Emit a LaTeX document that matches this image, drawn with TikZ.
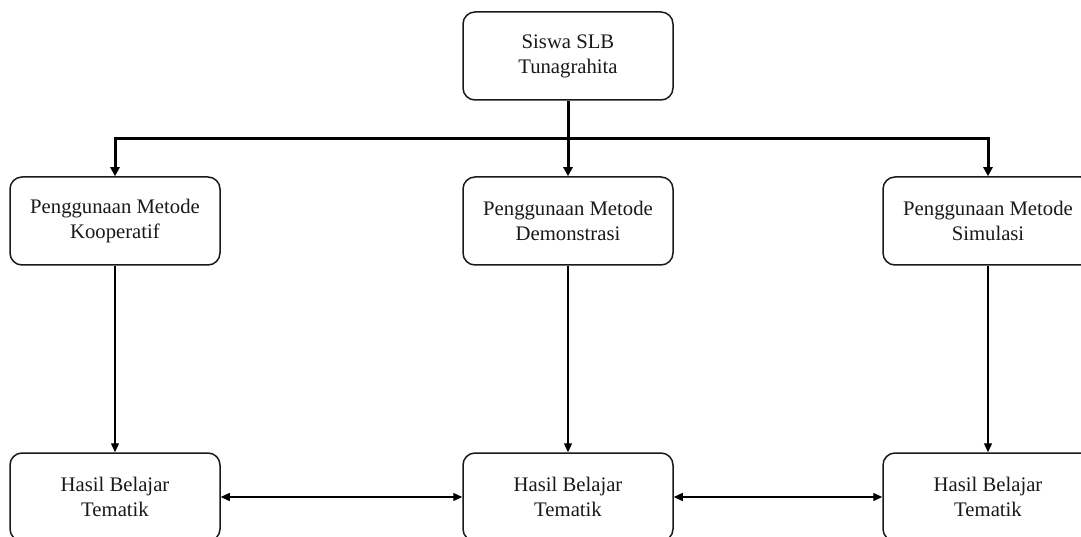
\documentclass[tikz,border=0pt]{standalone}
\usepackage{fontspec}
\setmainfont{Liberation Serif}
\usetikzlibrary{arrows.meta}
\begin{document}
\begin{tikzpicture}[x=1pt,y=-1pt,
  box/.style={draw=black!90, line width=1.5pt, rounded corners=12pt, minimum width=210pt, minimum height=88pt, align=center, font=\fontsize{20.7}{25}\selectfont, inner sep=0pt, fill=white, text=black!90},
  thick con/.style={line width=3pt, -{Triangle[length=9pt,width=9pt]}},
  thin con/.style={line width=1.4pt, -{Triangle[length=9pt,width=8pt]}},
  both con/.style={line width=1.4pt, {Triangle[length=9pt,width=8pt]}-{Triangle[length=9pt,width=8pt]}}]
\useasboundingbox (0,0) rectangle (1081,537);
\clip (0,0) rectangle (1081,537);
\node[box] (top) at (568,56) {Siswa SLB\\Tunagrahita};
\node[box] (m1) at (115,221) {Penggunaan Metode\\Kooperatif};
\node[box] (m2) at (568,221) {Penggunaan Metode\\Demonstrasi};
\node[box] (m3) at (988,221) {Penggunaan Metode\\Simulasi};
\node[box] (b1) at (115,497) {Hasil Belajar\\Tematik};
\node[box] (b2) at (568,497) {Hasil Belajar\\Tematik};
\node[box] (b3) at (988,497) {Hasil Belajar\\Tematik};
\coordinate (j) at (568,139);
\draw[thick con] (top.south) -- (m2.north);
\draw[thick con] (j) -| (m1.north);
\draw[thick con] (j) -| (m3.north);
\draw[thin con] (m1.south) -- (b1.north);
\draw[thin con] (m2.south) -- (b2.north);
\draw[thin con] (m3.south) -- (b3.north);
\draw[both con] (b1.east) -- (b2.west);
\draw[both con] (b2.east) -- (b3.west);
\end{tikzpicture}
\end{document}
